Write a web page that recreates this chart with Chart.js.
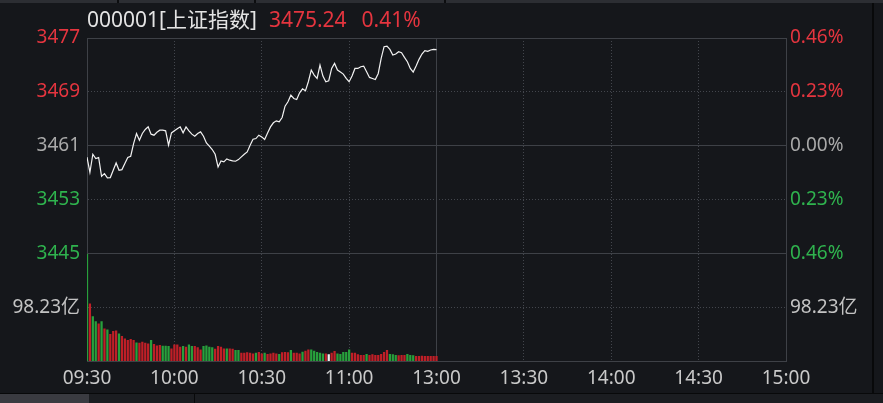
<!DOCTYPE html>
<html>
<head>
<meta charset="utf-8">
<script src="https://cdn.jsdelivr.net/npm/chart.js@4.4.1/dist/chart.umd.min.js"></script>
<style>
    html, body { margin: 0; padding: 0; background: #15171b; width: 883px; height: 403px; overflow: hidden; }
    #wrap { position: relative; width: 883px; height: 403px; font-family: "Noto Sans", "Noto Sans CJK SC", sans-serif; }
    #c { position: absolute; left: 0; top: 0; }
    .topbar { position: absolute; left: 0; top: 0; width: 883px; height: 3px; background: #2c2e33; }
    .sep { position: absolute; top: 0; width: 2px; height: 3px; background: #0c0d0f; }
    .head { position: absolute; left: 87px; top: 3px; font-size: 21px; color: #e4e4e4; white-space: nowrap; }
    .head .r { color: #e5353f; margin-left: 12px; }
    .edge { position: absolute; left: 872px; top: 3px; width: 2px; height: 391px; background: #08090a; }
    .bottom { position: absolute; left: 0; top: 393px; width: 883px; height: 10px; background: #1b1d21; border-top: 1px solid #08090a; }
    .tab { position: absolute; left: 0; top: 0; width: 89px; height: 10px; background: #3a3b41; }
    .tabsep { position: absolute; left: 194px; top: 0; width: 1px; height: 10px; background: #08090a; }
</style>
</head>
<body>
<div id="wrap">
    <canvas id="c" width="883" height="393"></canvas>
    <div class="topbar"><div class="sep" style="left:117px"></div><div class="sep" style="left:254px"></div><div class="sep" style="left:444px"></div></div>
    <div class="head">000001[上证指数]<span class="r">3475.24</span><span class="r" style="margin-left:15px">0.41%</span></div>
    <div class="edge"></div>
    <div class="bottom"><div class="tab"></div><div class="tabsep"></div></div>
</div>
<script>
// 上证指数 分时 — one point per minute 09:30..11:30 (drawn up to the 13:00 mark)
const timeLabels = ['09:30', '10:00', '10:30', '11:00', '13:00', '13:30', '14:00', '14:30', '15:00'];
const timeTicks = [0, 30, 60, 90, 120, 150, 180, 210, 240];
const prevClose = 3461.05;
const priceRange = 15.92;
const volTick = 98.23;

const prices = [
    3459.34, 3457.12, 3459.78, 3459.14, 3459.29, 3456.53, 3456.92, 3456.28, 3456.33, 3457.41,
    3458.50, 3457.41, 3457.51, 3458.40, 3459.29, 3459.49, 3461.36, 3462.85, 3461.86, 3462.85,
    3463.44, 3463.83, 3462.75, 3462.60, 3463.04, 3463.34, 3463.34, 3463.24, 3461.12, 3462.94,
    3463.24, 3463.54, 3463.83, 3462.94, 3463.83, 3463.24, 3462.75, 3462.45, 3462.85, 3463.09,
    3462.45, 3461.46, 3460.97, 3460.48, 3459.78, 3457.91, 3458.80, 3458.65, 3459.09, 3458.90,
    3458.80, 3458.75, 3458.99, 3459.39, 3459.78, 3460.13, 3461.12, 3462.01, 3462.10, 3462.60,
    3462.35, 3461.96, 3462.94, 3463.83, 3464.43, 3464.72, 3464.57, 3465.22, 3466.89, 3467.54,
    3468.52, 3468.03, 3467.88, 3468.87, 3469.46, 3469.16, 3470.50, 3472.23, 3471.49, 3470.99,
    3472.97, 3471.34, 3470.50, 3470.65, 3472.47, 3473.21, 3472.23, 3471.93, 3471.63, 3470.99,
    3470.50, 3471.34, 3472.47, 3472.47, 3472.72, 3472.82, 3471.98, 3471.14, 3470.99, 3470.84,
    3471.73, 3473.95, 3475.68, 3475.78, 3475.29, 3474.45, 3474.60, 3474.94, 3474.79, 3474.10,
    3473.46, 3472.47, 3471.93, 3472.82, 3473.81, 3474.60, 3475.09, 3474.99, 3475.19, 3475.29,
    3475.24
];

// 成交额 (亿)
const volumes = [
    195.2, 104.3, 81.2, 72.1, 67.9, 72.1, 58.8, 57.0, 48.5, 54.0,
    55.2, 49.7, 44.9, 40.6, 37.6, 39.4, 37.6, 33.3, 32.7, 34.6,
    32.7, 31.5, 37.6, 30.3, 27.9, 28.5, 27.3, 27.3, 26.7, 22.4,
    29.7, 29.7, 25.5, 26.7, 25.5, 29.7, 26.7, 26.7, 24.3, 20.6,
    26.7, 27.9, 25.5, 24.3, 21.8, 26.7, 25.5, 22.4, 22.4, 22.4,
    21.8, 19.4, 19.4, 14.6, 14.6, 15.2, 14.6, 13.3, 14.6, 15.8,
    13.3, 14.6, 12.1, 13.3, 14.6, 13.3, 12.1, 15.2, 15.8, 15.2,
    19.4, 14.6, 14.6, 13.3, 16.4, 18.2, 20.6, 20.6, 18.2, 15.8,
    14.6, 13.3, 13.3, 11.5, 14.6, 17.6, 13.3, 12.1, 15.8, 15.8,
    20.6, 14.6, 14.6, 11.5, 10.3, 10.3, 12.1, 10.3, 11.5, 10.3,
    10.3, 12.1, 15.8, 19.4, 12.1, 11.5, 10.3, 9.7, 10.3, 10.3,
    12.1, 10.3, 9.7, 8.5, 8.5, 9.1, 8.5, 8.5, 8.5, 8.5,
    8.5
];

// R = up, G = down, W = flat
const dirs = ('GRGGRGRGRR' + 'RGRRRRRGRR' + 'RRGRRRGGGR' + 'RRRGRGGRRR' +
    'GGGGRRRRGR' + 'RGGRRRRRGR' + 'RGRRRRGRRR' + 'GRRRGRRGGG' +
    'GGRWRRGGGG' + 'GRRRRRGRRR' + 'RRRRGGGRRR' + 'GGGRRRRRRR' + 'R').split('');

const RED = '#e5353f', GREEN = '#2fb34e', GREY = '#a9a9a9';
const BAR = { R: '#c01f27', G: '#28a03c', W: '#f0f0f0' };
const SOLID = '#3e4147', DOT = '#43464d';

const pMin = prevClose - priceRange, pMax = prevClose + priceRange;
const priceTicks = [pMin, prevClose - priceRange / 2, prevClose, prevClose + priceRange / 2, pMax];
const pct = v => (v / prevClose - 1) * 100;
const colorFor = d => Math.abs(d) < 1e-6 ? GREY : (d > 0 ? RED : GREEN);

Chart.defaults.font.family = '"Noto Sans", "Noto Sans CJK SC", sans-serif';
Chart.defaults.font.size = 19;
Chart.defaults.animation = false;

const fixW = w => s => { s.width = w; };

new Chart(document.getElementById('c'), {
    data: {
        datasets: [{
            type: 'line',
            data: prices.map((p, i) => ({ x: i, y: p })),
            yAxisID: 'y',
            borderColor: '#f2f2f2',
            borderWidth: 1.2,
            pointRadius: 0,
            tension: 0,
        }, {
            type: 'bar',
            data: volumes.map((v, i) => ({ x: i, y: v })),
            yAxisID: 'vol',
            backgroundColor: dirs.map(d => BAR[d]),
            barThickness: 1.6,
        }],
    },
    options: {
        responsive: false,
        layout: { padding: { top: 38, left: 0, right: 0, bottom: 0 } },
        plugins: { legend: { display: false }, tooltip: { enabled: false } },
        scales: {
            x: {
                type: 'linear', min: 0, max: 240, offset: false,
                afterBuildTicks: s => { s.ticks = timeTicks.map(v => ({ value: v })); },
                afterFit: s => { s.height = 32; },
                ticks: { color: '#c9c9c9', padding: 6, maxRotation: 0, autoSkip: false, callback: (v, i) => timeLabels[i] },
                grid: { offset: false, color: c => (c.index % 4 === 0 ? SOLID : DOT), drawTicks: false },
                border: { color: SOLID, dash: c => (c.tick && c.index % 4 !== 0 ? [1, 2] : []) },
            },
            y: {
                position: 'left', stack: 'main', stackWeight: 2, weight: 1,
                min: pMin, max: pMax,
                afterBuildTicks: s => { s.ticks = priceTicks.map(v => ({ value: v })); },
                afterFit: fixW(87),
                ticks: {
                    padding: 7,
                    color: c => colorFor(c.tick.value - prevClose),
                    callback: v => Math.round(v).toString(),
                },
                grid: { color: c => (c.index % 2 === 0 ? SOLID : DOT), drawTicks: false },
                border: { color: SOLID, dash: c => (c.tick && c.index % 2 === 1 ? [1, 2] : []) },
            },
            vol: {
                position: 'left', stack: 'main', stackWeight: 1, weight: 0,
                min: 0, max: volTick * 2,
                afterBuildTicks: s => { s.ticks = [{ value: volTick }]; },
                afterFit: fixW(87),
                ticks: { padding: 7, color: '#c3c3c3', callback: v => v.toFixed(2) + '亿' },
                grid: { color: DOT, drawTicks: false },
                border: { color: SOLID, dash: c => (c.tick ? [1, 2] : []) },
            },
            pct: {
                position: 'right', stack: 'main', stackWeight: 2, weight: 0,
                min: pct(pMin), max: pct(pMax),
                afterBuildTicks: s => { s.ticks = priceTicks.map(v => ({ value: pct(v) })); },
                afterFit: fixW(97),
                ticks: {
                    padding: 4,
                    color: c => colorFor(c.tick.value),
                    callback: v => Math.abs(v).toFixed(2) + '%',
                },
                grid: { display: false, drawTicks: false },
                border: { color: SOLID },
            },
            volR: {
                position: 'right', stack: 'main', stackWeight: 1, weight: 1,
                min: 0, max: volTick * 2,
                afterBuildTicks: s => { s.ticks = [{ value: volTick }]; },
                afterFit: fixW(97),
                ticks: { padding: 4, color: '#c3c3c3', callback: v => v.toFixed(2) + '亿' },
                grid: { display: false, drawTicks: false },
                border: { color: SOLID },
            },
        },
    },
});
</script>
</body>
</html>
